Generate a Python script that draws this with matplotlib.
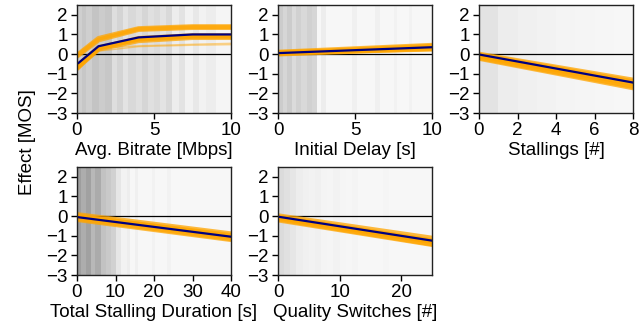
import matplotlib
matplotlib.use("Agg")
import matplotlib.pyplot as plt
import numpy as np

plt.rcParams['font.family'] = ['Liberation Sans', 'DejaVu Sans']
plt.rcParams['font.size'] = 13.5

# ---------------- data ----------------
labels = ["Avg. Bitrate [Mbps]", "Initial Delay [s]", "Stallings [#]",
          "Total Stalling Duration [s]", "Quality Switches [#]"]
xlims = [(0, 10), (0, 10), (0, 8), (0, 40), (0, 25)]
xticks = [[0, 5, 10], [0, 5, 10], [0, 2, 4, 6, 8], [0, 10, 20, 30, 40], [0, 10, 20]]
yticks = [-3, -2, -1, 0, 1, 2]

# background data-density bands: edges and gray level
bitrate_edges = [0.0, 0.3, 0.6, 1.0, 1.4, 1.8, 2.3, 2.6, 3.0, 3.3, 3.8, 4.2, 4.6,
                 5.0, 5.4, 5.8, 6.2, 6.6, 7.0, 7.5, 7.9, 8.4, 9.0, 10.0]
bitrate_gray = [0.81, 0.78, 0.81, 0.77, 0.80, 0.78, 0.87, 0.83, 0.89, 0.85, 0.88,
                0.84, 0.88, 0.86, 0.89, 0.85, 0.93, 0.89, 0.95, 0.91, 0.95, 0.93, 0.96]
delay_edges = [0.0, 0.3, 0.6, 0.9, 1.2, 1.5, 1.9, 2.2, 2.5, 2.8, 3.1, 4.8, 5.1,
               6.3, 6.6, 7.5, 7.7, 8.5, 8.7, 10.0]
delay_gray = [0.80, 0.84, 0.80, 0.86, 0.82, 0.85, 0.82, 0.84, 0.97, 0.93, 0.97,
              0.94, 0.97, 0.94, 0.97, 0.95, 0.97, 0.95, 0.97]
stall_edges = [0, 1, 2, 3, 4, 5, 6, 7, 8]
stall_gray = [0.89, 0.93, 0.94, 0.95, 0.955, 0.96, 0.965, 0.97]
dur_edges = [0.0, 1.0, 2.3, 3.6, 4.6, 6.2, 7.5, 8.8, 10.1, 11.4, 13.0, 13.8, 15.0,
             15.8, 19.5, 20.3, 23.5, 24.3, 40.0]
dur_gray = [0.62, 0.68, 0.63, 0.72, 0.67, 0.76, 0.79, 0.82, 0.90, 0.95, 0.93,
            0.97, 0.94, 0.97, 0.95, 0.97, 0.95, 0.97]
sw_edges = [0, 1, 2, 3, 4, 5, 6, 7, 8, 9, 10, 11, 12, 13, 17, 18, 25]
sw_gray = [0.86, 0.88, 0.90, 0.93, 0.94, 0.95, 0.94, 0.955, 0.96, 0.95, 0.96,
           0.965, 0.955, 0.97, 0.96, 0.97]
bands = [(bitrate_edges, bitrate_gray), (delay_edges, delay_gray),
         (stall_edges, stall_gray), (dur_edges, dur_gray), (sw_edges, sw_gray)]

# effect curves: knots, mean, bootstrap samples
bitrate_x = [0.1, 1.4, 4.0, 7.5, 10.0]
bitrate_mean = [-0.45, 0.40, 0.85, 1.00, 1.00]
bitrate_samples = [[0.00, 0.80, 1.30, 1.40, 1.40],
                   [-0.05, 0.72, 1.25, 1.35, 1.35],
                   [-0.55, 0.33, 0.75, 0.90, 0.90],
                   [-0.65, 0.25, 0.68, 0.84, 0.84],
                   [-0.60, 0.30, 0.80, 0.94, 0.94]]
bitrate_thin = [[-0.80, 0.30, 0.42, 0.50, 0.55],
                [-0.70, 0.15, 0.38, 0.45, 0.48]]

delay_x = [0, 10]
delay_mean = [0.05, 0.35]
delay_samples = [[0.10, 0.45], [0.05, 0.40], [0.00, 0.28], [0.08, 0.25], [0.02, 0.33]]

stall_x = [0, 8]
stall_mean = [-0.02, -1.45]
stall_samples = [[0.00, -1.32], [-0.10, -1.50], [-0.18, -1.65], [-0.22, -1.72],
                 [-0.05, -1.40]]

dur_x = [0, 40]
dur_mean = [-0.05, -1.05]
dur_samples = [[0.08, -0.90], [-0.02, -0.98], [-0.12, -1.15], [-0.18, -1.20],
               [0.00, -1.05]]

sw_x = [0, 25]
sw_mean = [-0.03, -1.25]
sw_samples = [[0.02, -1.12], [-0.08, -1.30], [-0.15, -1.42], [-0.20, -1.45],
              [-0.05, -1.25]]

curves = [(bitrate_x, bitrate_mean, bitrate_samples, bitrate_thin),
          (delay_x, delay_mean, delay_samples, []),
          (stall_x, stall_mean, stall_samples, []),
          (dur_x, dur_mean, dur_samples, []),
          (sw_x, sw_mean, sw_samples, [])]

# ---------------- figure ----------------
fig = plt.figure(figsize=(6.42, 3.26), dpi=100)
W, H = 642, 326
lefts = [77, 278, 479, 77, 278]
tops = [5, 5, 5, 167, 167]
aw, ah = 154, 108

for i in range(5):
    ax = fig.add_axes([lefts[i] / W, 1 - (tops[i] + ah) / H, aw / W, ah / H])
    ax.set_facecolor('#f7f7f7')
    edges, gray = bands[i]
    for j in range(len(gray)):
        ax.axvspan(edges[j], edges[j + 1], color=str(gray[j]), lw=0, zorder=0)
    ax.axhline(0, color='black', lw=0.9, zorder=1)
    xs, mean, samples, thin = curves[i]
    for s in thin:
        ax.plot(xs, s, color='orange', lw=1.0, alpha=0.45, zorder=2)
    for s in samples:
        ax.plot(xs, s, color='orange', lw=3.5, alpha=0.75, zorder=3,
                solid_joinstyle='round')
    ax.plot(xs, mean, color='navy', lw=1.6, zorder=4)
    ax.set_xlim(*xlims[i])
    ax.set_ylim(-3, 2.5)
    ax.set_xticks(xticks[i])
    ax.set_yticks(yticks)
    ax.set_yticklabels([("\u2212%d" % -t) if t < 0 else str(t) for t in yticks])
    ax.set_xlabel(labels[i], labelpad=2)
    ax.tick_params(length=4, width=1, pad=2.5, labelsize=13.5)
    for sp in ax.spines.values():
        sp.set_linewidth(1.0)
        sp.set_color('#222222')
        sp.set_zorder(5)

fig.text(27 / W, 1 - 142 / H, "Effect [MOS]", rotation=90, ha='center',
         va='center', fontsize=13.5)

fig.savefig("out.png", dpi=100)
